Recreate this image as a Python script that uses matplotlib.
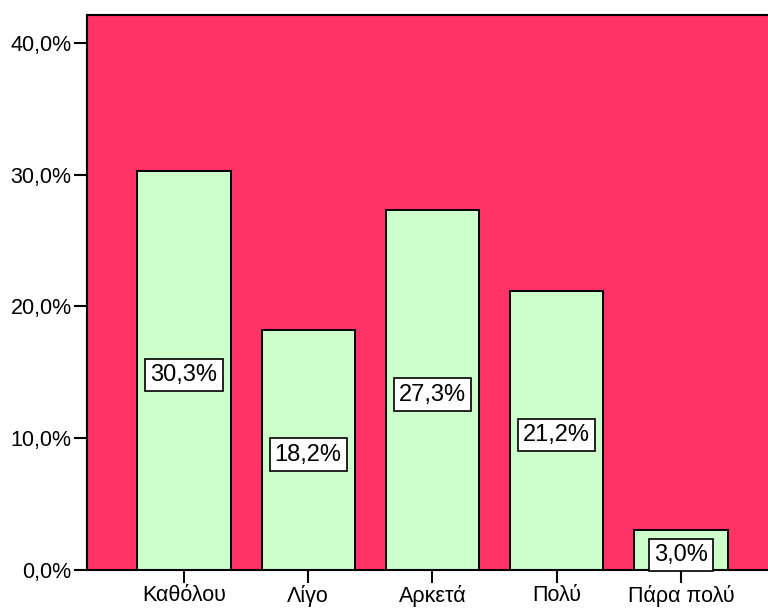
import matplotlib
matplotlib.use("Agg")
import matplotlib.pyplot as plt
from matplotlib.ticker import FuncFormatter

categories = ["Καθόλου", "Λίγο", "Αρκετά", "Πολύ", "Πάρα πολύ"]
percent = [30.3, 18.2, 27.3, 21.2, 3.0]
yticks = [0, 10, 20, 30, 40]

plt.rcParams["font.family"] = ["Liberation Sans", "DejaVu Sans"]

fig = plt.figure(figsize=(7.68, 6.08), dpi=100)
ax = fig.add_axes([87 / 768, 38 / 608, 1 - 87 / 768, 555 / 608])
ax.set_facecolor("#FF3366")

x = list(range(len(categories)))
ax.bar(x, percent, width=0.75, color="#CCFFCC", edgecolor="black", linewidth=1.4, zorder=2)

for xi, v in zip(x, percent):
    ax.text(xi, v / 2 - 0.35, f"{v:.1f}%".replace(".", ","), ha="center", va="center",
            fontsize=17, zorder=3,
            bbox=dict(boxstyle="square,pad=0.22", facecolor="white", edgecolor="black", linewidth=1.2))

ax.set_xlim(-0.78, 4.70)
ax.set_ylim(0, 42.1)
ax.set_xticks(x)
ax.set_xticklabels(categories, fontsize=15.5)
ax.set_yticks(yticks)
ax.yaxis.set_major_formatter(FuncFormatter(lambda v, p: f"{v:.1f}%".replace(".", ",")))
ax.tick_params(axis="y", labelsize=15.5, length=9.5, width=1.5, pad=1.5)
ax.tick_params(axis="x", length=9.5, width=1.5, pad=1)

for side in ["left", "bottom", "top"]:
    ax.spines[side].set_linewidth(1.5)
ax.spines["right"].set_visible(False)

fig.savefig("out.png", dpi=100)
